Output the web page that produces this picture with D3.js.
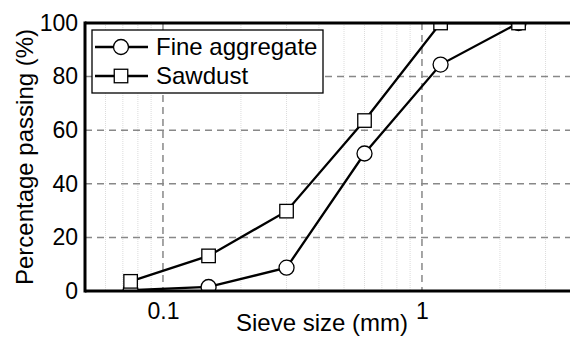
<!DOCTYPE html>
<html><head><meta charset="utf-8">
<script src="https://cdn.jsdelivr.net/npm/d3@7"></script>
<style>body{margin:0;background:#fff}svg{display:block;font-family:Arial,"Liberation Sans",sans-serif}</style>
</head><body>
<script>
const sieveSizes = [0.075, 0.15, 0.3, 0.6, 1.18, 2.36];
const fineAggregate = [0.3, 1.5, 8.7, 51.3, 84.5, 100];
const sawdust = [3.6, 13.1, 29.8, 63.6, 100, 100];
const seriesNames = ["Fine aggregate", "Sawdust"];
const yTicks = [0, 20, 40, 60, 80, 100];
const xTickLabels = [0.1, 1];
const xMinor = [0.06,0.07,0.08,0.09,0.2,0.3,0.4,0.5,0.6,0.7,0.8,0.9,2,3,4];

const W = 570, H = 343;
const FONT = 'Arial, "Liberation Sans", sans-serif';
const svg = d3.select("body").append("svg").attr("width", W).attr("height", H);
const L = 85, T = 23, B = 291, R = 603;
const x = d3.scaleLog().domain([0.05, 5]).range([L, R]);
const y = d3.scaleLinear().domain([0, 100]).range([B, T]);

svg.append("defs").append("clipPath").attr("id","clip")
  .append("rect").attr("x", L).attr("y", T).attr("width", R - L).attr("height", B - T);

// minor grid
svg.append("g").selectAll("line").data(xMinor).join("line")
  .attr("x1", d => x(d)).attr("x2", d => x(d)).attr("y1", T).attr("y2", B)
  .attr("stroke", "#dcdcdc").attr("stroke-width", 1).attr("stroke-dasharray", "1,1");
// major grid
svg.append("g").selectAll("line").data(xTickLabels).join("line")
  .attr("x1", d => x(d)).attr("x2", d => x(d)).attr("y1", T).attr("y2", B)
  .attr("stroke", "#888").attr("stroke-width", 1.5).attr("stroke-dasharray", "7,5");
svg.append("g").selectAll("line").data(yTicks.filter(d => d > 0 && d < 100)).join("line")
  .attr("x1", L).attr("x2", R).attr("y1", d => y(d)).attr("y2", d => y(d))
  .attr("stroke", "#888").attr("stroke-width", 1.5).attr("stroke-dasharray", "7,5");

// axes
const xAxis = d3.axisBottom(x).tickValues(xTickLabels).tickFormat(d3.format("")).tickSize(0).tickPadding(12);
const gx = svg.append("g").attr("transform", `translate(0,${B})`).call(xAxis);
gx.select(".domain").remove();
gx.attr("font-family", FONT).attr("font-size", 23);
gx.selectAll("text").attr("fill", "#000");

const yAxis = d3.axisLeft(y).tickValues(yTicks).tickSize(0).tickPadding(7);
const gy = svg.append("g").attr("transform", `translate(${L},0)`).call(yAxis);
gy.select(".domain").remove();
gy.attr("font-family", FONT).attr("font-size", 23);
gy.selectAll("text").attr("fill", "#000");

// data
const plot = svg.append("g").attr("clip-path", "url(#clip)");
const line = d3.line().x(d => x(d[0])).y(d => y(d[1]));
const faData = sieveSizes.map((s, i) => [s, fineAggregate[i]]);
const sdData = sieveSizes.map((s, i) => [s, sawdust[i]]);

plot.append("path").datum(faData).attr("d", line).attr("fill", "none").attr("stroke", "#000").attr("stroke-width", 2.3);
plot.append("g").selectAll("circle").data(faData).join("circle")
  .attr("cx", d => x(d[0])).attr("cy", d => y(d[1])).attr("r", 7.5)
  .attr("fill", "#fff").attr("stroke", "#000").attr("stroke-width", 1.3);
plot.append("path").datum(sdData).attr("d", line).attr("fill", "none").attr("stroke", "#000").attr("stroke-width", 2.3);
const sq = 13.5;
plot.append("g").selectAll("rect").data(sdData).join("rect")
  .attr("x", d => x(d[0]) - sq/2).attr("y", d => y(d[1]) - sq/2).attr("width", sq).attr("height", sq)
  .attr("fill", "#fff").attr("stroke", "#000").attr("stroke-width", 1.3);

// frame
svg.append("line").attr("x1", L).attr("x2", R).attr("y1", B).attr("y2", B).attr("stroke", "#000").attr("stroke-width", 3);
svg.append("line").attr("x1", L).attr("x2", R).attr("y1", T).attr("y2", T).attr("stroke", "#000").attr("stroke-width", 3);
svg.append("line").attr("x1", L).attr("x2", L).attr("y1", T - 1.5).attr("y2", B + 1.5).attr("stroke", "#000").attr("stroke-width", 3);

// legend
const lg = svg.append("g");
lg.append("rect").attr("x", 92).attr("y", 30).attr("width", 231).attr("height", 63)
  .attr("fill", "#fff").attr("stroke", "#000").attr("stroke-width", 1.3);
const rows = [47, 76];
seriesNames.forEach((name, i) => {
  const yy = rows[i];
  lg.append("line").attr("x1", 95).attr("x2", 148).attr("y1", yy).attr("y2", yy).attr("stroke", "#000").attr("stroke-width", 2.3);
  if (i === 0) {
    lg.append("circle").attr("cx", 121).attr("cy", yy).attr("r", 7.5).attr("fill", "#fff").attr("stroke", "#000").attr("stroke-width", 1.3);
  } else {
    lg.append("rect").attr("x", 121 - sq/2).attr("y", yy - sq/2).attr("width", sq).attr("height", sq).attr("fill", "#fff").attr("stroke", "#000").attr("stroke-width", 1.3);
  }
  lg.append("text").attr("x", 156).attr("y", yy).attr("dy", "0.35em").attr("font-size", 24).text(name);
});

// axis titles
svg.append("text").attr("x", 322).attr("y", 331).attr("text-anchor", "middle").attr("font-size", 24).text("Sieve size (mm)");
svg.append("text").attr("transform", "translate(33,157) rotate(-90)").attr("text-anchor", "middle").attr("font-size", 24).text("Percentage passing (%)");
</script>
</body></html>
